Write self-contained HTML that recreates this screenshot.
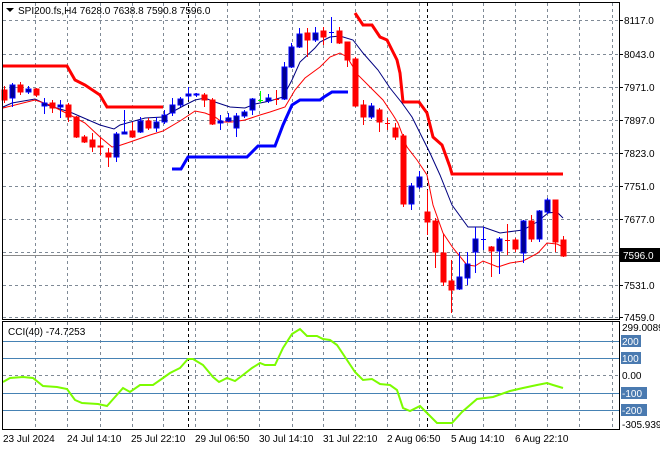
<!DOCTYPE html>
<html><head><meta charset="utf-8"><style>
body{margin:0;background:#fff;width:660px;height:450px;overflow:hidden}
svg{display:block;font-family:"Liberation Sans",sans-serif;font-size:10px}
</style></head><body>
<svg id="s" width="660" height="450" xmlns="http://www.w3.org/2000/svg">
<rect width="660" height="450" fill="#fff"/>
<g id="grid" stroke="#7f8a96" stroke-dasharray="3,3" stroke-width="1"></g>
<g id="cgrid"></g>
<line x1="188.5" y1="3" x2="188.5" y2="319" stroke="#000" stroke-dasharray="3,3"/>
<line x1="427.5" y1="3" x2="427.5" y2="319" stroke="#000" stroke-dasharray="3,3"/>
<line x1="188.5" y1="322" x2="188.5" y2="429" stroke="#000" stroke-dasharray="3,3"/>
<line x1="427.5" y1="322" x2="427.5" y2="429" stroke="#000" stroke-dasharray="3,3"/>
<line x1="3" y1="255.5" x2="619" y2="255.5" stroke="#8a8a8a"/>
<polyline fill="none" stroke="#ff0000" stroke-width="3" points="3,66 67,66 75,80 85,85 100,95 107,107 163,107"/>
<polyline fill="none" stroke="#ff0000" stroke-width="3" points="355,13 363,25 372,25 380,37 387,40 393,52 397,60 400,73 403,102 419,102 427,113 433,137 442,145 450,167 452,174 563,174"/>
<polyline fill="none" stroke="#0000ff" stroke-width="3" points="172,169 181,169 188,157 247,157 258,146 275,146 283,125 292,105 300,100 320,100 324,97 332,92 348,92"/>
<polyline fill="none" stroke="#000080" stroke-width="1" points="3,107 12,103 35,99 50,106 70,112 100,125 114,129 120,125 145,118 163,117 185,105 195,100 205,98 215,102 230,107 245,108 255,104 270,101 283,97 292,80 300,62 315,48 320,42 330,37 340,36 353,40 363,53 378,70 390,88 402,103 412,117 420,133 430,153 440,175 452,205 468,227 483,227 500,233 515,231 523,230 537,222 548,213 557,212 563,218"/>
<polyline fill="none" stroke="#ff0000" stroke-width="1" points="3,108 35,100 50,105 70,115 85,123 100,137 112,147 118,146 130,142 150,135 163,131 180,121 195,111 205,113 215,117 222,122 232,122 245,120 260,115 270,112 285,107 295,90 305,78 320,67 330,57 340,53 347,57 358,75 370,87 383,100 393,115 398,123 407,147 417,160 427,175 433,205 443,233 453,248 467,265 475,266 483,261 498,267 510,263 523,261 538,253 547,243 557,244 563,247"/>
<g id="candles"></g>
<polyline fill="none" stroke="#7cfc00" stroke-width="2" points="3,382 10,378 23,377 33,378 43,386 57,387 67,389 75,400 82,403 98,404 107,406 115,397 123,388 130,392 140,385 153,385 163,378 170,373 180,368 188,359 193,359 203,365 213,377 219,382 227,378 235,381 243,375 252,368 260,363 265,365 275,365 283,348 292,334 300,329 307,336 317,336 323,339 330,340 337,345 347,360 355,372 363,380 372,379 380,384 390,385 397,390 403,408 410,411 420,406 427,413 437,423 452,423 462,412 477,399 493,397 510,391 523,388 537,385 547,383 553,385 563,388"/>
<rect x="2.5" y="2.5" width="617" height="317" fill="none" stroke="#000"/>
<rect x="2.5" y="321.5" width="617" height="108" fill="none" stroke="#000"/>
<polygon points="6,8 14,8 10,12" fill="#000"/>
<text x="18" y="14" fill="#000">SPI200.fs,H4  7628.0 7638.8 7590.8 7596.0</text>
<text x="8" y="335" fill="#000">CCI(40) -74.7253</text>
<g id="ax" fill="#000"></g>
<rect x="620" y="248" width="40" height="14" fill="#000"/>
<text x="623" y="259" fill="#fff">7596.0</text>
<g fill="#000">
<text x="3" y="442">23 Jul 2024</text>
<text x="67" y="442">24 Jul 14:10</text>
<text x="131" y="442">25 Jul 22:10</text>
<text x="195" y="442">29 Jul 06:50</text>
<text x="259" y="442">30 Jul 14:10</text>
<text x="323" y="442">31 Jul 22:10</text>
<text x="387" y="442">2 Aug 06:50</text>
<text x="451" y="442">5 Aug 14:10</text>
<text x="515" y="442">6 Aug 22:10</text>
</g>
</svg>
<script>
var NS="http://www.w3.org/2000/svg";
function el(p,t,a){var e=document.createElementNS(NS,t);for(var k in a)e.setAttribute(k,a[k]);p.appendChild(e);return e;}
var g=document.getElementById("grid");
var xs=[35,67,100,132,163,195,227,259,292,323,355,387,419,452,483,515,547,579,612];
xs.forEach(function(x){el(g,"line",{x1:x+.5,y1:3,x2:x+.5,y2:319});el(g,"line",{x1:x+.5,y1:322,x2:x+.5,y2:429});});
var ys=[20,54,87,120,153,186,219,252,285,317];
var labs=["8117.0","8043.0","7971.0","7897.0","7823.0","7751.0","7677.0","7605.0","7531.0","7459.0"];
var ax=document.getElementById("ax");
ys.forEach(function(y,i){el(g,"line",{x1:3,y1:y+.5,x2:619,y2:y+.5});el(ax,"line",{x1:619,y1:y+.5,x2:623,y2:y+.5,stroke:"#000"});var t=el(ax,"text",{x:624,y:y+4});t.textContent=labs[i];});
el(g,"line",{x1:3,y1:375.5,x2:619,y2:375.5});
var cg=document.getElementById("cgrid");
[341,358,393,410].forEach(function(y){el(cg,"line",{x1:3,y1:y+.5,x2:619,y2:y+.5,stroke:"#4682b4"});});
var cl=[["299.0089",327,0],["200",341,1],["100",358,1],["0.00",375,0],["-100",393,1],["-200",410,1],["-305.939",424,0]];
cl.forEach(function(c){if(c[2]){el(ax,"rect",{x:621,y:c[1]-6,width:c[0].length*6+2,height:12,fill:"#4a7ab0"});}var t=el(ax,"text",{x:622,y:c[1]+4,fill:c[2]?"#fff":"#000"});t.textContent=c[0];});
var C=[
["r",90,100,86,103],["b",85,98,83,107],["r",85,92,82,95],["b",89,92,86,94],["r",89,95,88,97],
["b",103,106,98,114],["r",103,108,100,113],["b",105,107,100,118],["r",105,117,103,122],["r",117,137,116,138],
["r",137,142,135,143],["r",140,147,133,152],["r",146,147,138,155],["r",153,157,148,167],["b",134,157,132,162],
["b",132,134,110,133],["r",131,137,122,138],["b",121,132,117,133],["r",121,128,118,130],["b",122,128,117,132],
["b",115,122,110,124],["b",105,113,98,116],["b",99,105,97,107],["b",94,96,87,100],["b",94,95,93,97],
["r",95,100,93,107],["r",100,124,98,125],["b",121,123,115,130],["b",118,121,113,122],["b",116,128,113,137],
["b",112,116,110,118],["b",99,110,98,115],["g",100,100,91,103],["b",98,101,94,103],["r",99,99,90,105],
["b",67,99,62,100],["b",47,67,43,68],["b",34,47,28,48],["r",33,40,28,57],["b",33,40,27,42],
["r",31,37,27,45],["b",32,32,17,43],["r",31,43,27,44],["r",42,60,42,67],["r",59,106,57,107],
["r",105,117,100,125],["b",106,117,103,119],["r",110,122,108,132],["r",123,123,118,130],["r",128,137,123,140],
["r",136,204,134,207],["b",186,204,183,210],["b",177,187,171,189],["r",212,222,190,235],["r",221,252,218,268],
["r",253,282,234,286],["r",281,290,260,313],["b",277,289,252,290],["b",264,278,252,285],["b",239,252,227,273],
["b",239,239,227,250],["r",247,251,246,277],["b",239,251,237,274],["r",240,240,224,255],["r",240,249,238,252],
["b",221,253,220,263],["r",221,239,215,242],["b",211,239,210,242],["b",200,212,198,214],["r",200,242,200,252],
["r",240,256,236,257]];
var cd=document.getElementById("candles");
C.forEach(function(c,i){var x=Math.round(4+7.986*i);var col=c[0]=="r"?"#ff0000":(c[0]=="b"?"#0000ff":"#00ff00");var fill=c[0]=="r"?"#ff0000":(c[0]=="b"?"#000090":"#00ff00");
el(cd,"line",{x1:x+.5,y1:c[3],x2:x+.5,y2:c[4],stroke:col});
var h=c[2]-c[1];if(h<1){el(cd,"line",{x1:x-2,y1:c[1]+.5,x2:x+3,y2:c[1]+.5,stroke:col});}
else el(cd,"rect",{x:x-2,y:c[1],width:5,height:h,fill:fill,stroke:col,"stroke-width":1});});
</script>
</body></html>
